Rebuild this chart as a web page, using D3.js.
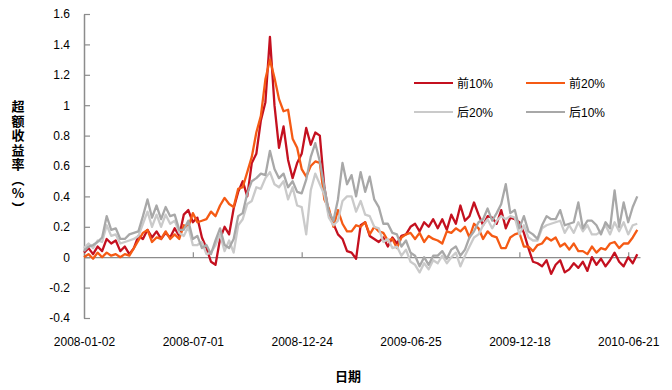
<!DOCTYPE html>
<html>
<head>
<meta charset="utf-8">
<script src="https://cdn.jsdelivr.net/npm/d3@7"></script>
<style>
  body { margin: 0; background: #fff; }
  svg { display: block; }
</style>
</head>
<body>
<div id="chart"></div>
<script>
// tick labels on the category (trading day) axis
const dateLabels = ["2008-01-02", "2008-07-01", "2008-12-24", "2009-06-25", "2009-12-18", "2010-06-21"];
const labelDays = [0, 120, 240, 360, 480, 600];
const totalDays = 613;
const sampleStep = 5; // one value every 5 trading days
const yTicks = [-0.4, -0.2, 0, 0.2, 0.4, 0.6, 0.8, 1, 1.2, 1.4, 1.6];

// excess return (%) sampled every 5 trading days
const top10 = [0.03,0.06,0.02,0.07,0.04,0.12,0.09,0.11,0.04,0.07,0.02,0.06,0.14,0.12,0.18,0.13,0.17,0.12,0.16,0.13,
  0.19,0.14,0.28,0.31,0.23,0.26,0.13,0.06,-0.03,-0.05,0.12,0.2,0.15,0.32,0.43,0.5,0.4,0.62,0.68,0.9,
  1.02,1.45,1.0,0.72,0.86,0.64,0.52,0.62,0.68,0.85,0.74,0.82,0.8,0.46,0.28,0.22,0.15,0.12,0.04,0.03,
  -0.01,0.21,0.23,0.14,0.12,0.1,0.13,0.07,0.13,0.09,0.14,0.15,0.2,0.22,0.17,0.23,0.2,0.25,0.19,0.25,
  0.18,0.28,0.22,0.34,0.24,0.27,0.36,0.28,0.21,0.27,0.26,0.22,0.31,0.19,0.26,0.25,0.23,0.16,0.06,-0.03,
  -0.04,-0.06,-0.02,-0.11,-0.05,-0.02,-0.1,-0.08,-0.04,-0.07,-0.03,-0.09,0.0,-0.05,-0.01,-0.06,-0.02,0.03,-0.03,-0.06,
  0.0,-0.04,0.02];
const top20 = [0.0,0.02,-0.01,0.03,0.0,0.03,0.01,0.02,0.0,0.02,0.01,0.06,0.11,0.16,0.18,0.1,0.13,0.12,0.17,0.12,
  0.15,0.12,0.21,0.2,0.29,0.23,0.24,0.25,0.3,0.27,0.34,0.39,0.35,0.33,0.45,0.46,0.56,0.66,0.82,0.93,
  1.17,1.3,1.18,1.04,0.96,0.97,0.78,0.72,0.58,0.53,0.6,0.63,0.62,0.38,0.32,0.2,0.31,0.22,0.17,0.17,
  0.21,0.2,0.23,0.15,0.2,0.17,0.16,0.11,0.12,0.06,0.13,0.15,0.16,0.12,0.16,0.1,0.14,0.12,0.11,0.09,
  0.17,0.16,0.19,0.17,0.2,0.13,0.22,0.19,0.12,0.17,0.14,0.13,0.06,0.06,0.13,0.15,0.16,0.07,0.07,0.04,
  0.08,0.09,0.13,0.11,0.13,0.07,0.09,0.05,0.09,0.04,0.04,0.02,0.07,0.03,0.06,0.05,0.09,0.1,0.06,0.09,
  0.09,0.13,0.18];
const bottom20 = [0.06,0.09,0.06,0.11,0.1,0.21,0.14,0.15,0.09,0.1,0.11,0.12,0.14,0.22,0.3,0.2,0.28,0.2,0.28,0.22,
  0.24,0.16,0.14,0.2,0.08,0.08,0.1,0.02,0.03,0.08,0.15,0.04,0.11,0.03,0.21,0.25,0.35,0.37,0.46,0.45,
  0.52,0.56,0.48,0.46,0.5,0.38,0.46,0.34,0.33,0.15,0.44,0.55,0.48,0.41,0.26,0.21,0.24,0.37,0.4,0.4,
  0.3,0.37,0.28,0.27,0.2,0.19,0.1,0.12,0.06,0.07,0.01,0.05,-0.03,-0.05,-0.1,-0.04,-0.08,-0.02,-0.04,0.01,
  -0.04,0.0,0.03,-0.06,0.01,0.07,0.13,0.15,0.21,0.25,0.19,0.24,0.27,0.25,0.27,0.26,0.15,0.21,0.13,0.11,
  0.11,0.19,0.21,0.22,0.23,0.24,0.16,0.21,0.16,0.23,0.17,0.21,0.15,0.15,0.17,0.21,0.15,0.23,0.17,0.23,
  0.15,0.21,0.22];
const bottom10 = [0.04,0.07,0.08,0.1,0.13,0.27,0.18,0.19,0.12,0.12,0.15,0.16,0.17,0.27,0.38,0.26,0.34,0.25,0.33,0.27,
  0.28,0.18,0.18,0.24,0.12,0.14,0.06,0.08,0.02,0.11,0.19,0.08,0.06,0.12,0.27,0.29,0.42,0.5,0.52,0.55,
  0.54,0.7,0.58,0.52,0.55,0.46,0.5,0.43,0.42,0.51,0.66,0.75,0.63,0.46,0.3,0.24,0.38,0.62,0.48,0.54,
  0.4,0.56,0.43,0.53,0.38,0.33,0.22,0.22,0.16,0.15,0.07,0.11,0.03,0.01,-0.06,0.0,-0.05,0.01,0.01,0.04,
  -0.01,0.05,0.07,0.01,0.05,0.13,0.17,0.23,0.25,0.32,0.24,0.29,0.35,0.48,0.29,0.31,0.19,0.27,0.17,0.15,
  0.12,0.21,0.27,0.25,0.25,0.31,0.21,0.22,0.23,0.36,0.19,0.24,0.24,0.21,0.15,0.23,0.19,0.44,0.2,0.36,
  0.23,0.33,0.4];

const seriesNames = ["前10%", "前20%", "后20%", "后10%"];
const seriesColors = ["#c4101f", "#f55a14", "#cacaca", "#a8a8a8"];
const seriesValues = [top10, top20, bottom20, bottom10];

const width = 672, height = 390;
const font = "'Liberation Sans', Arial, 'Noto Sans CJK SC', sans-serif";

const svg = d3.select("#chart").append("svg")
  .attr("width", width)
  .attr("height", height)
  .style("font-family", font);

const x = d3.scaleLinear().domain([0, totalDays]).range([84, 640]);
const y = d3.scaleLinear().domain([-0.4, 1.6]).range([318, 14]);

// y axis, ticks pointing inward
const yAxis = svg.append("g")
  .attr("transform", `translate(${x(0)},0)`)
  .call(d3.axisLeft(y).tickValues(yTicks).tickSizeInner(-6).tickSizeOuter(0).tickPadding(14)
    .tickFormat((d) => String(+d.toFixed(1))));
yAxis.select(".domain").attr("stroke", "#8c8c8c").attr("stroke-width", 1.5);
yAxis.selectAll(".tick line").attr("stroke", "#8c8c8c").attr("stroke-width", 1.2);
yAxis.selectAll(".tick text").attr("fill", "#000").attr("font-size", 12).attr("font-family", font);

// x axis along zero line, labels pushed to the bottom
const xAxis = svg.append("g")
  .attr("transform", `translate(0,${y(0)})`)
  .call(d3.axisBottom(x).tickValues(labelDays).tickSizeInner(-5).tickSizeOuter(0).tickPadding(80)
    .tickFormat((d, i) => dateLabels[i]));
xAxis.select(".domain").attr("stroke", "#8c8c8c").attr("stroke-width", 1.2);
xAxis.selectAll(".tick line").attr("stroke", "#8c8c8c").attr("stroke-width", 1.2);
xAxis.selectAll(".tick text").attr("fill", "#000").attr("font-size", 12).attr("font-family", font);

// series
const line = d3.line()
  .x((d, i) => x(i * sampleStep))
  .y((d) => y(d));

svg.append("g")
  .selectAll("path")
  .data(seriesValues)
  .join("path")
  .attr("d", line)
  .attr("fill", "none")
  .attr("stroke", (d, i) => seriesColors[i])
  .attr("stroke-width", 2.3)
  .attr("stroke-linejoin", "round");

// legend, 2 x 2
const legend = svg.append("g");
seriesNames.forEach((name, i) => {
  const lx = 414 + (i % 2) * 112;
  const ly = 83 + Math.floor(i / 2) * 29;
  legend.append("line")
    .attr("x1", lx).attr("x2", lx + 39)
    .attr("y1", ly).attr("y2", ly)
    .attr("stroke", seriesColors[i])
    .attr("stroke-width", 2);
  legend.append("text")
    .attr("x", lx + 43)
    .attr("y", ly + 4.5)
    .attr("font-size", 12)
    .text(name);
});

// axis titles
svg.append("text")
  .attr("x", 18)
  .attr("y", 100)
  .attr("font-size", 13)
  .attr("font-weight", "bold")
  .attr("font-family", "'Noto Sans CJK SC', sans-serif")
  .style("writing-mode", "vertical-rl")
  .style("text-orientation", "upright")
  .style("letter-spacing", "1.5px")
  .text("超额收益率（%）");

svg.append("text")
  .attr("x", 348)
  .attr("y", 381)
  .attr("text-anchor", "middle")
  .attr("font-size", 13)
  .attr("font-weight", "bold")
  .attr("font-family", "'Noto Sans CJK SC', sans-serif")
  .text("日期");
</script>
</body>
</html>
